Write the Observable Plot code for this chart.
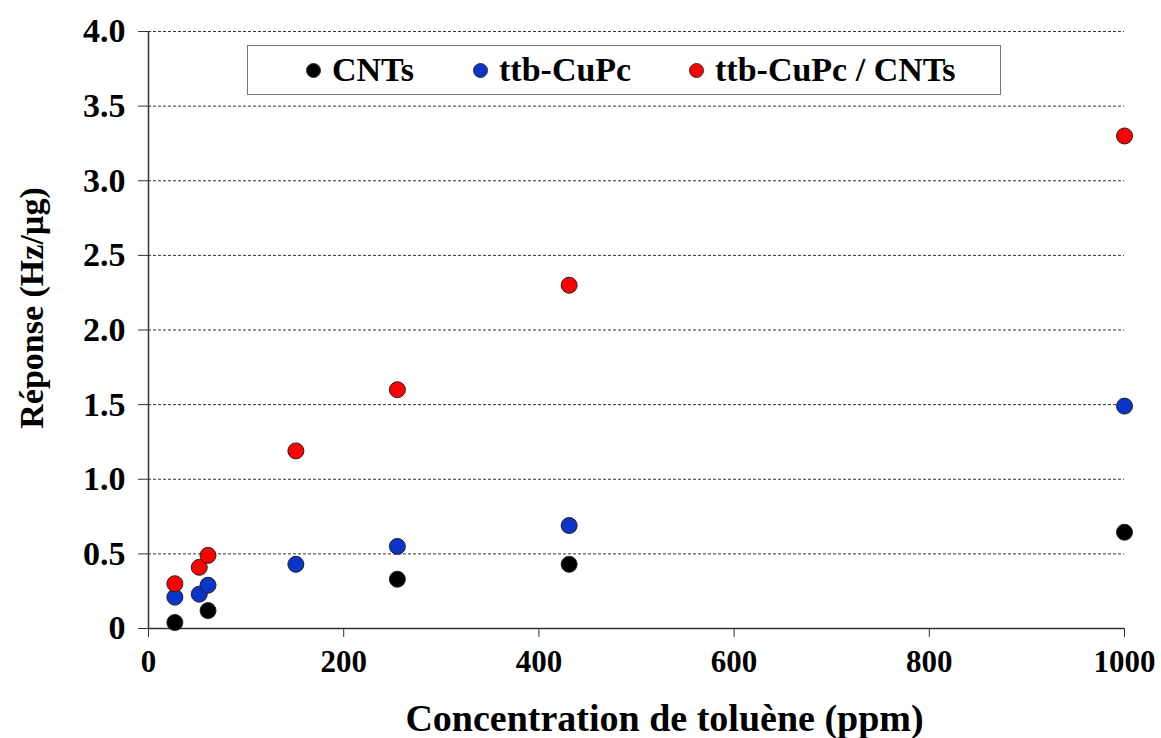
<!DOCTYPE html>
<html><head><meta charset="utf-8">
<script src="https://cdn.jsdelivr.net/npm/d3@7"></script>
<script src="https://cdn.jsdelivr.net/npm/@observablehq/plot@0.6"></script>
<style>
body{margin:0;background:#fff;}
#wrap{position:relative;width:1161px;height:738px;font-family:"Liberation Serif","Times New Roman",serif;font-weight:bold;}
#legend{position:absolute;left:247px;top:45px;width:752px;height:48px;border:1.5px solid #777;background:#fff;font-size:34px;}
.item{position:absolute;top:0;height:48px;display:flex;align-items:center;white-space:nowrap;}
.dot{width:15px;height:15px;border-radius:50%;border:1px solid #333;margin-right:11px;box-sizing:border-box;}
</style></head>
<body><div id="wrap"><div id="chart"></div><div id="legend"></div></div>
<script>
const seriesNames = ["CNTs", "ttb-CuPc", "ttb-CuPc / CNTs"];
const seriesColors = ["#000000", "#0a35c8", "#ff0000"];
const concCNTs = [27, 61, 255, 431, 1000];
const respCNTs = [0.04, 0.12, 0.33, 0.43, 0.645];
const concCuPc = [27, 52, 61, 151, 255, 431, 1000];
const respCuPc = [0.21, 0.23, 0.29, 0.43, 0.55, 0.69, 1.49];
const concHyb = [27, 52, 61, 151, 255, 431, 1000];
const respHyb = [0.30, 0.41, 0.49, 1.19, 1.60, 2.30, 3.30];
const xTicks = [0, 200, 400, 600, 800, 1000];
const yTicks = [0, 0.5, 1.0, 1.5, 2.0, 2.5, 3.0, 3.5, 4.0];
const xTitle = "Concentration de toluène (ppm)";
const yTitle = "Réponse (Hz/µg)";

const data = [];
[[concCNTs, respCNTs], [concCuPc, respCuPc], [concHyb, respHyb]].forEach(([xs, ys], i) => {
  xs.forEach((x, j) => data.push({series: seriesNames[i], x, y: ys[j]}));
});

const chart = Plot.plot({
  width: 1161,
  height: 738,
  marginLeft: 148,
  marginRight: 37,
  marginTop: 31,
  marginBottom: 110,
  style: {fontFamily: '"Liberation Serif","Times New Roman",serif', fontWeight: "bold", color: "#000", background: "#fff"},
  x: {domain: [0, 1000], ticks: xTicks},
  y: {domain: [0, 4], ticks: yTicks},
  color: {domain: seriesNames, range: seriesColors},
  marks: [
    Plot.gridY(yTicks.filter(d => d > 0), {stroke: "#333", strokeOpacity: 1, strokeDasharray: "3,2", strokeWidth: 1}),
    Plot.ruleY([0], {stroke: "#333", strokeWidth: 1.5}),
    Plot.ruleX([0], {stroke: "#333", strokeWidth: 1.5}),
    Plot.axisX(xTicks, {tickSize: 9, tickPadding: 12, fontSize: 31, label: null, stroke: "#333", tickFormat: d => String(d)}),
    Plot.axisY(yTicks, {tickSize: 10, tickPadding: 13, fontSize: 34, label: null, stroke: "#333", tickFormat: d => d === 0 ? "0" : d.toFixed(1)}),
    Plot.text([xTitle], {frameAnchor: "bottom", dx: 28, dy: 102, fontSize: 38, fontWeight: "bold", fill: "#000"}),
    Plot.text([yTitle], {frameAnchor: "left", textAnchor: "middle", dx: -116, dy: -22, rotate: -90, fontSize: 34, fontWeight: "bold", fill: "#000"}),
    Plot.dot(data, {x: "x", y: "y", fill: "series", stroke: "#222", strokeWidth: 1, r: 8})
  ]
});
document.getElementById("chart").appendChild(chart);

const legend = document.getElementById("legend");
const lefts = [58, 225, 441];
seriesNames.forEach((name, i) => {
  const it = document.createElement("div");
  it.className = "item";
  it.style.left = lefts[i] + "px";
  const d = document.createElement("div");
  d.className = "dot";
  d.style.background = seriesColors[i];
  const t = document.createElement("span");
  t.textContent = name;
  it.appendChild(d); it.appendChild(t);
  legend.appendChild(it);
});
</script>
</body></html>
